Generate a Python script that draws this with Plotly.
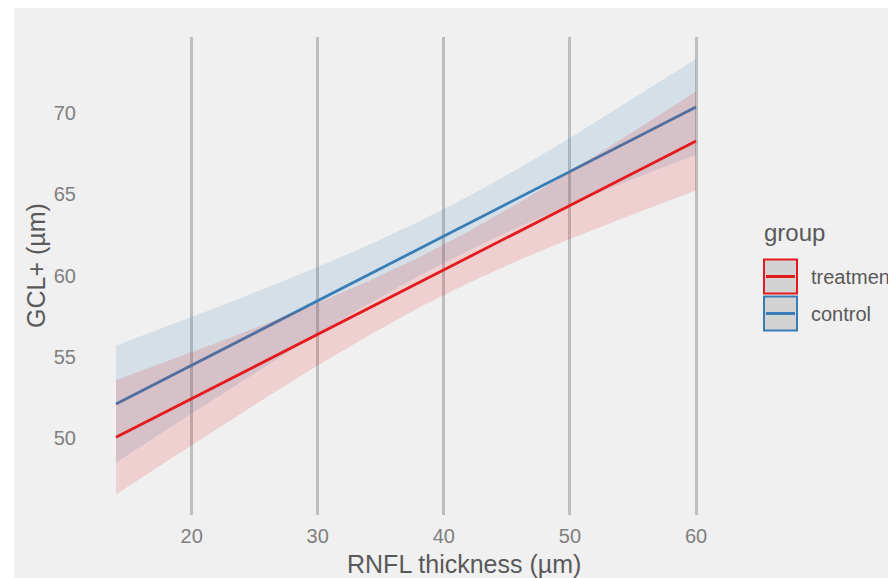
import plotly.graph_objects as go

# ---- data ----
rnfl = [14, 18, 22, 26, 30, 34, 38, 42, 46, 50, 54, 58, 60]

treat_fit = [50.04, 51.63, 53.21, 54.80, 56.38, 57.97, 59.56, 61.14, 62.73, 64.31, 65.90, 67.48, 68.28]
treat_lo = [46.52, 48.55, 50.56, 52.54, 54.46, 56.30, 58.01, 59.55, 60.96, 62.24, 63.47, 64.64, 65.23]
treat_hi = [53.56, 54.71, 55.86, 57.06, 58.31, 59.65, 61.11, 62.73, 64.50, 66.38, 68.33, 70.32, 71.33]

ctrl_fit = [52.09, 53.68, 55.27, 56.87, 58.46, 60.05, 61.64, 63.23, 64.82, 66.41, 68.00, 69.60, 70.37]
ctrl_lo = [48.49, 50.51, 52.51, 54.48, 56.40, 58.24, 59.97, 61.56, 63.02, 64.36, 65.63, 66.85, 67.42]
ctrl_hi = [55.69, 56.85, 58.03, 59.26, 60.52, 61.86, 63.31, 64.90, 66.62, 68.46, 70.38, 72.35, 73.32]

x_ticks = [20, 30, 40, 50, 60]
y_ticks = [50, 55, 60, 65, 70]
groups = ["treatment", "control"]

RED = "#e41a1c"
BLUE = "#377eb8"
BG = "#f0f0f0"
FONT = "Liberation Sans, Arial, sans-serif"
TXT = "#595959"
TICK = "#7f7f7f"

# page has an 8px body margin; the figure runs past the window's right and bottom edges
OFF = 8
W, H = 900, 576
L, T = 79, 29
PW, PH = 638, 478
R, B = W - L - PW, H - T - PH


def px(sx):  # screen x -> paper x
    return (sx - OFF - L) / PW


def py(sy):  # screen y -> paper y
    return (H - B - (sy - OFF)) / PH


fig = go.Figure()


def band(xs, lo, hi, col, alpha):
    r, g, b = int(col[1:3], 16), int(col[3:5], 16), int(col[5:7], 16)
    fig.add_trace(go.Scatter(
        x=xs + xs[::-1], y=hi + lo[::-1], fill="toself",
        fillcolor=f"rgba({r},{g},{b},{alpha})", line=dict(width=0),
        mode="lines", hoverinfo="skip", showlegend=False))


# control first, then treatment (treatment ribbon overlays control line)
band(rnfl, ctrl_lo, ctrl_hi, BLUE, 0.15)
fig.add_trace(go.Scatter(x=rnfl, y=ctrl_fit, mode="lines",
                         line=dict(color=BLUE, width=2.8), name="control", showlegend=False))
band(rnfl, treat_lo, treat_hi, RED, 0.15)
fig.add_trace(go.Scatter(x=rnfl, y=treat_fit, mode="lines",
                         line=dict(color=RED, width=2.8), name="treatment", showlegend=False))

fig.update_layout(
    width=W, height=H,
    margin=dict(l=L, r=R, t=T, b=B, pad=0),
    paper_bgcolor=BG, plot_bgcolor=BG,
    font=dict(family=FONT, color=TICK),
    showlegend=False,
    xaxis=dict(
        range=[11.7, 62.3], tickvals=x_ticks, showgrid=True, gridcolor="#bebebe",
        gridwidth=2.5, zeroline=False, showline=False,
        ticks="outside", ticklen=3, tickcolor="rgba(0,0,0,0)",
        tickfont=dict(size=20, color=TICK),
    ),
    yaxis=dict(
        range=[45.26, 74.68], tickvals=y_ticks, showgrid=False, zeroline=False, showline=False,
        ticks="outside", ticklen=6, tickcolor="rgba(0,0,0,0)",
        tickfont=dict(size=20, color=TICK),
    ),
)

shapes = []
# white border strip on the left of the cropped image
shapes.append(dict(type="rect", xref="paper", yref="paper", x0=px(0), x1=px(14), y0=py(600), y1=py(0),
                   fillcolor="white", line=dict(width=0), layer="above"))

annotations = [
    dict(text="RNFL thickness (µm)", xref="paper", yref="paper", x=px(464), y=py(564),
         xanchor="center", yanchor="middle", showarrow=False, font=dict(size=25, color=TXT, family=FONT)),
    dict(text="GCL+ (µm)", xref="paper", yref="paper", x=px(36), y=py(266), textangle=-90,
         xanchor="center", yanchor="middle", showarrow=False, font=dict(size=25, color=TXT, family=FONT)),
    dict(text="group", xref="paper", yref="paper", x=px(762), y=py(233), xanchor="left",
         yanchor="middle", showarrow=False, font=dict(size=24, color=TXT, family=FONT)),
]

# manual legend keys
key_rows = [(259.5, 293.5, RED), (296.5, 330.5, BLUE)]
for (y0, y1, col), name in zip(key_rows, groups):
    shapes.append(dict(type="rect", xref="paper", yref="paper", x0=px(764), x1=px(797), y0=py(y1), y1=py(y0),
                       fillcolor="#d3d3d3", line=dict(color=col, width=2), layer="above"))
    yc = (y0 + y1) / 2
    shapes.append(dict(type="line", xref="paper", yref="paper", x0=px(766), x1=px(795), y0=py(yc), y1=py(yc),
                       line=dict(color=col, width=3), layer="above"))
    annotations.append(dict(text=name, xref="paper", yref="paper", x=px(809), y=py(yc), xanchor="left",
                            yanchor="middle", showarrow=False, font=dict(size=20, color=TXT, family=FONT)))

fig.update_layout(shapes=shapes, annotations=annotations)

fig.write_html(
    "out.html",
    post_script="document.documentElement.style.overflow='hidden';document.body.style.overflow='hidden';",
)
